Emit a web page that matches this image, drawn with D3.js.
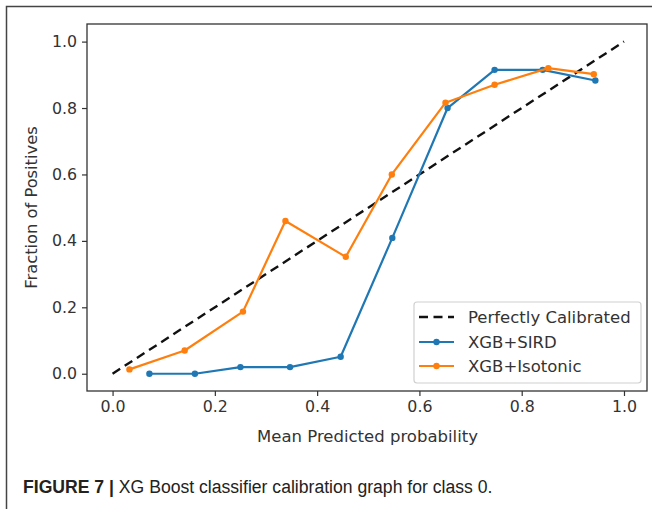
<!DOCTYPE html>
<html>
<head>
<meta charset="utf-8">
<script src="https://cdn.jsdelivr.net/npm/d3@7"></script>
<style>
  html, body { margin: 0; padding: 0; background: #fff; }
  svg { display: block; }
</style>
</head>
<body>
<script>
// ---- data ----
const xTicks = [0.0, 0.2, 0.4, 0.6, 0.8, 1.0];
const yTicks = [0.0, 0.2, 0.4, 0.6, 0.8, 1.0];
const perfectX = [0, 1];
const perfectY = [0, 1];
const sirdX = [0.072, 0.161, 0.250, 0.347, 0.446, 0.547, 0.655, 0.747, 0.841, 0.944];
const sirdY = [0.000, 0.000, 0.020, 0.020, 0.051, 0.409, 0.800, 0.915, 0.915, 0.883];
const isoX  = [0.033, 0.141, 0.255, 0.338, 0.456, 0.546, 0.651, 0.747, 0.852, 0.941];
const isoY  = [0.013, 0.070, 0.187, 0.460, 0.352, 0.600, 0.816, 0.870, 0.920, 0.902];
const seriesNames = ["Perfectly Calibrated", "XGB+SIRD", "XGB+Isotonic"];
const xLabel = "Mean Predicted probability";
const yLabel = "Fraction of Positives";
const captionBold = "FIGURE 7 |";
const captionText = " XG Boost classifier calibration graph for class 0.";

(function () {
const W = 652, H = 509;
const pL = 87, pR = 647, pT = 24, pB = 391;
const svg = d3.select("body").append("svg").attr("width", W).attr("height", H);

// outer frame
svg.append("path").attr("d", `M6.5,${H} L6.5,6.5 L${W},6.5`)
  .attr("fill", "none").attr("stroke", "#444").attr("stroke-width", 1.5);

const x = d3.scaleLinear().domain([-0.05, 1.045]).range([pL, pR]);
const y = d3.scaleLinear().domain([-0.052, 1.053]).range([pB, pT]);

const font = "DejaVu Sans, sans-serif";

// axes
const xAxis = svg.append("g").attr("transform", `translate(0,${pB})`)
  .call(d3.axisBottom(x).tickValues(xTicks).tickFormat(d3.format(".1f")).tickSize(5).tickPadding(5));
const yAxis = svg.append("g").attr("transform", `translate(${pL},0)`)
  .call(d3.axisLeft(y).tickValues(yTicks).tickFormat(d3.format(".1f")).tickSize(5).tickPadding(5));
[xAxis, yAxis].forEach(g => {
  g.select(".domain").remove();
  g.selectAll(".tick line").attr("stroke", "#333").attr("stroke-width", 1.2);
  g.selectAll(".tick text").attr("font-family", font).attr("font-size", 15.8).attr("fill", "#333");
});

// spines
svg.append("rect").attr("x", pL).attr("y", pT).attr("width", pR - pL).attr("height", pB - pT)
  .attr("fill", "none").attr("stroke", "#333").attr("stroke-width", 1.3);

// lines
const line = d3.line().x(d => x(d[0])).y(d => y(d[1]));
const perfect = perfectX.map((v, i) => [v, perfectY[i]]);
const sird = sirdX.map((v, i) => [v, sirdY[i]]);
const iso = isoX.map((v, i) => [v, isoY[i]]);

svg.append("path").attr("d", line(perfect)).attr("fill", "none")
  .attr("stroke", "#111").attr("stroke-width", 2.4).attr("stroke-dasharray", "9,5.5");

function drawSeries(data, color) {
  svg.append("path").attr("d", line(data)).attr("fill", "none")
    .attr("stroke", color).attr("stroke-width", 2.2).attr("stroke-linejoin", "round");
  svg.selectAll(null).data(data).enter().append("circle")
    .attr("cx", d => x(d[0])).attr("cy", d => y(d[1])).attr("r", 3.2).attr("fill", color);
}
drawSeries(sird, "#1f77b4");
drawSeries(iso, "#ff7f0e");

// axis labels
svg.append("text").attr("x", 367.5).attr("y", 442).attr("text-anchor", "middle")
  .attr("font-family", font).attr("font-size", 16.5).attr("fill", "#333").text(xLabel);
svg.append("text").attr("transform", `translate(37,${(pT + pB) / 2}) rotate(-90)`).attr("text-anchor", "middle")
  .attr("font-family", font).attr("font-size", 16.3).attr("fill", "#333").text(yLabel);

// legend
const lg = svg.append("g");
lg.append("rect").attr("x", 414).attr("y", 302).attr("width", 227).attr("height", 81).attr("rx", 3)
  .attr("fill", "#fff").attr("fill-opacity", 0.85).attr("stroke", "#d0d0d0").attr("stroke-width", 1.2);
const legRows = [
  { name: seriesNames[0], color: "#111", dash: "9,5.5", marker: false, w: 2.4 },
  { name: seriesNames[1], color: "#1f77b4", dash: null, marker: true, w: 2.2 },
  { name: seriesNames[2], color: "#ff7f0e", dash: null, marker: true, w: 2.2 }
];
const rowY = [317, 342, 366];
legRows.forEach((r, i) => {
  const ly = rowY[i];
  const p = lg.append("line").attr("x1", 419).attr("x2", 454).attr("y1", ly).attr("y2", ly)
    .attr("stroke", r.color).attr("stroke-width", r.w);
  if (r.dash) p.attr("stroke-dasharray", r.dash);
  if (r.marker) lg.append("circle").attr("cx", 436.5).attr("cy", ly).attr("r", 3.2).attr("fill", r.color);
  lg.append("text").attr("x", 468).attr("y", ly + 5.7).attr("font-family", font).attr("font-size", 16.5)
    .attr("fill", "#333").text(r.name);
});

// caption
const cap = svg.append("text").attr("x", 23).attr("y", 493)
  .attr("font-family", "Liberation Sans, Arial, sans-serif").attr("font-size", 17.6).attr("fill", "#222");
cap.append("tspan").attr("font-weight", "bold").text(captionBold);
cap.append("tspan").text(captionText);
})();
</script>
</body>
</html>
